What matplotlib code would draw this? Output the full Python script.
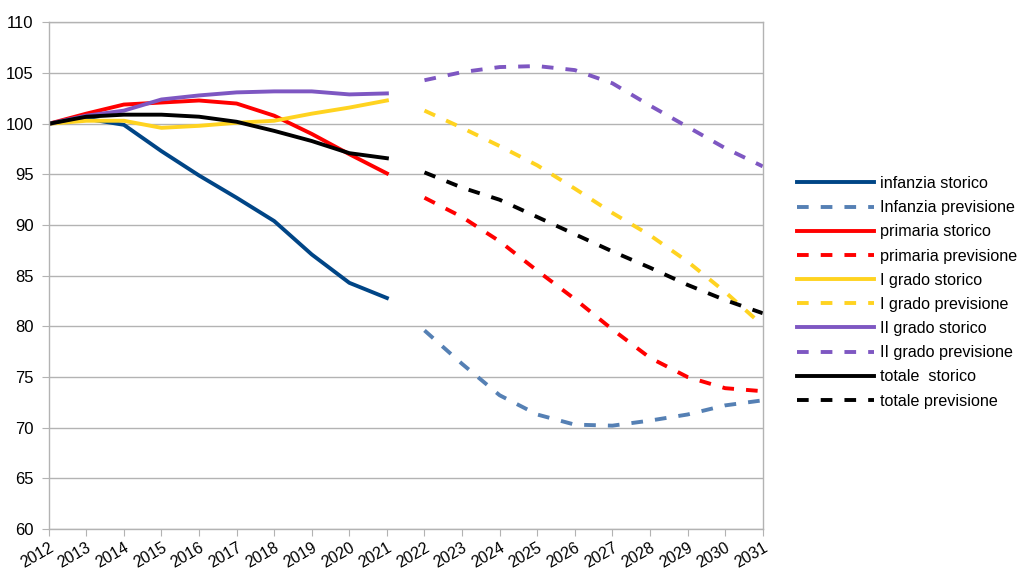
import numpy as np
import matplotlib
matplotlib.use("Agg")
import matplotlib.pyplot as plt

plt.rcParams["font.family"] = ["Liberation Sans", "DejaVu Sans"]

years = [str(y) for y in range(2012, 2032)]

# storico 2012-2021
infanzia_storico = [100, 100.5, 99.9, 97.3, 94.9, 92.7, 90.4, 87.1, 84.3, 82.8]
primaria_storico = [100, 101.0, 101.9, 102.1, 102.3, 102.0, 100.8, 99.0, 97.0, 95.1]
grado1_storico = [100, 100.3, 100.3, 99.6, 99.8, 100.1, 100.3, 101.0, 101.6, 102.3]
grado2_storico = [100, 100.8, 101.3, 102.4, 102.8, 103.1, 103.2, 103.2, 102.9, 103.0]
totale_storico = [100, 100.7, 100.9, 100.9, 100.7, 100.2, 99.3, 98.3, 97.1, 96.6]

# previsione 2022-2031
infanzia_prev = [79.6, 76.3, 73.2, 71.3, 70.3, 70.2, 70.7, 71.3, 72.2, 72.7]
primaria_prev = [92.7, 90.8, 88.4, 85.5, 82.7, 79.7, 76.9, 75.0, 73.9, 73.6]
grado1_prev = [101.3, 99.6, 97.8, 95.9, 93.6, 91.2, 89.0, 86.4, 83.4, 80.1]
grado2_prev = [104.3, 105.1, 105.6, 105.7, 105.3, 104.0, 101.8, 99.7, 97.6, 95.8]
totale_prev = [95.2, 93.7, 92.5, 90.8, 89.1, 87.4, 85.8, 84.1, 82.6, 81.3]

x_hist = np.arange(0, 10)
x_prev = np.arange(10, 20)

fig = plt.figure(figsize=(10.21, 5.71), dpi=100)
ax = fig.add_axes([0.0477, 0.0736, 0.6993, 0.887])

lw = 2.8
dash = (0, (3.0, 3.1))

ax.plot(x_hist, infanzia_storico, color="#004586", lw=lw, label="infanzia storico")
ax.plot(x_prev, infanzia_prev, color="#5580b4", lw=lw, ls=dash, label="Infanzia previsione")
ax.plot(x_hist, primaria_storico, color="#ff0000", lw=lw, label="primaria storico")
ax.plot(x_prev, primaria_prev, color="#ff0000", lw=lw, ls=dash, label="primaria previsione")
ax.plot(x_hist, grado1_storico, color="#ffd320", lw=lw, label="I grado storico")
ax.plot(x_prev, grado1_prev, color="#ffd320", lw=lw, ls=dash, label="I grado previsione")
ax.plot(x_hist, grado2_storico, color="#7e57c2", lw=lw, label="II grado storico")
ax.plot(x_prev, grado2_prev, color="#7e57c2", lw=lw, ls=dash, label="II grado previsione")
ax.plot(x_hist, totale_storico, color="#000000", lw=lw, label="totale  storico")
ax.plot(x_prev, totale_prev, color="#000000", lw=lw, ls=dash, label="totale previsione")

ax.set_xlim(0, 19)
ax.set_ylim(60, 110)
ax.set_yticks(np.arange(60, 111, 5))
ax.set_xticks(np.arange(20))
ax.set_xticklabels(years, rotation=30, ha="right", rotation_mode="anchor", fontsize=11.5)
ax.tick_params(axis="y", labelsize=12, length=5, color="#b3b3b3", pad=6)
ax.tick_params(axis="x", length=5, color="#b3b3b3", pad=3)
ax.yaxis.grid(True, color="#b3b3b3", lw=1)
ax.set_axisbelow(True)
for s in ax.spines.values():
    s.set_color("#b3b3b3")
    s.set_linewidth(1)

fig.legend(loc="upper left", bbox_to_anchor=(797 / 1021, 1 - 176 / 571),
           frameon=False, fontsize=11.6, handlelength=4.75, handletextpad=0.42,
           labelspacing=0.57, borderpad=0, borderaxespad=0)

fig.savefig("out.png", dpi=100)
